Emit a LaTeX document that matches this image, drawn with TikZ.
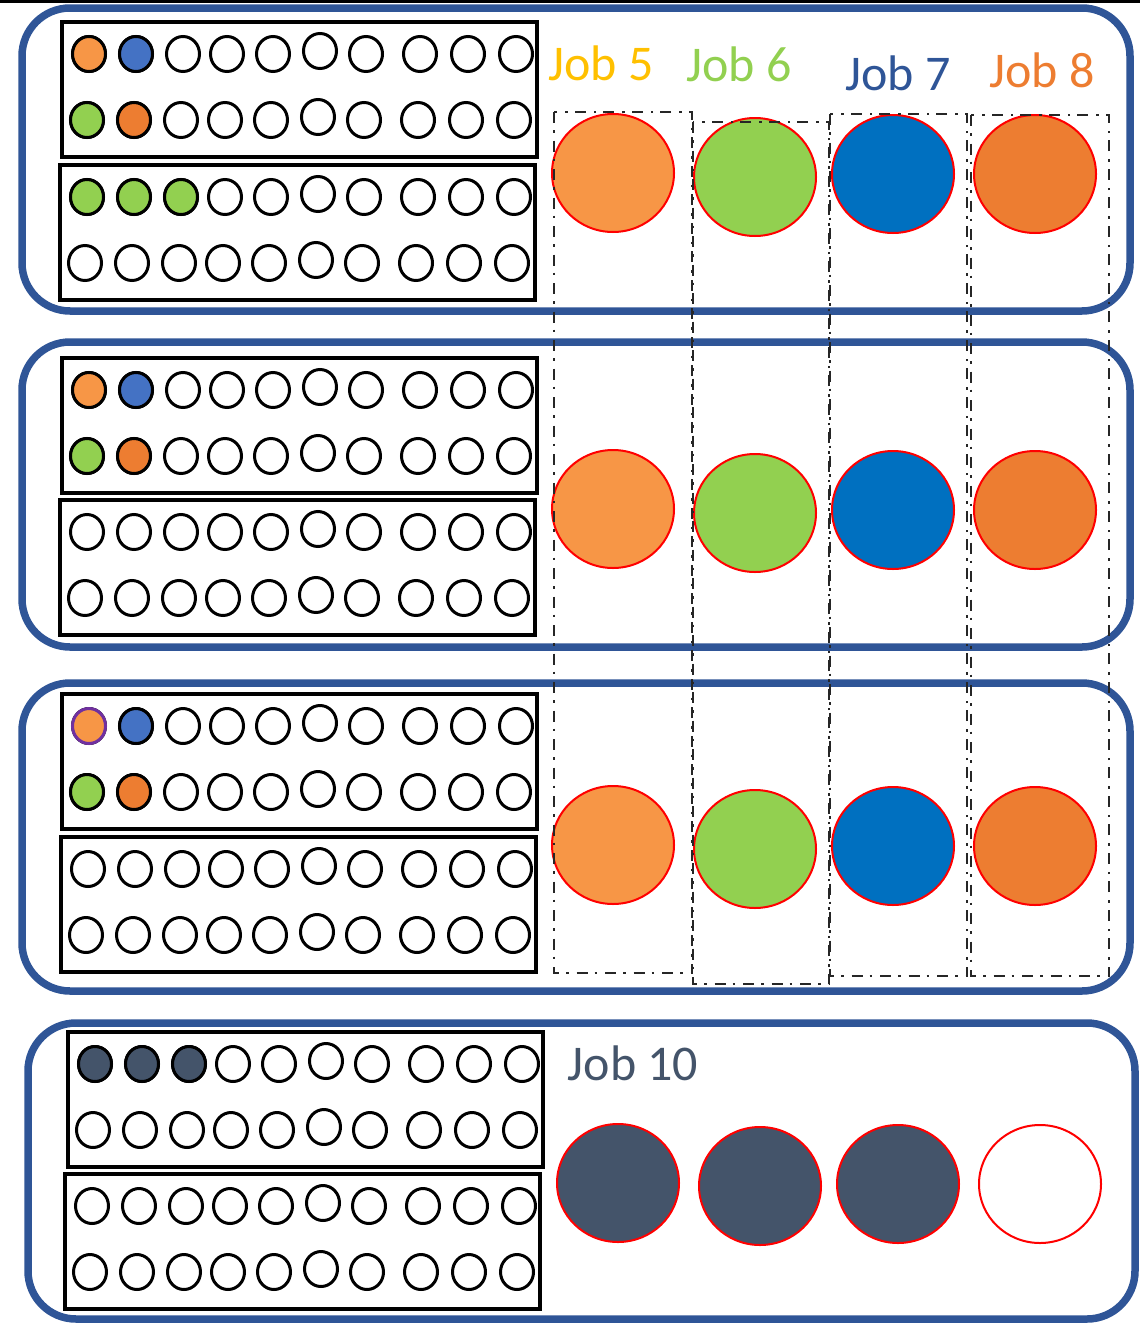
\documentclass[tikz,border=0pt]{standalone}
\usepackage{fontspec}
\setmainfont{Carlito}
\usepackage{xcolor}
\definecolor{panelblue}{HTML}{2F5597}
\definecolor{joborange}{HTML}{F79646}
\definecolor{jobgreen}{HTML}{92D050}
\definecolor{jobblue}{HTML}{0070C0}
\definecolor{jobdarkorange}{HTML}{ED7D31}
\definecolor{jobgold}{HTML}{FFC000}
\definecolor{slotblue}{HTML}{4472C4}
\definecolor{jobslate}{HTML}{44546A}
\definecolor{jobpurple}{HTML}{7030A0}
\tikzset{
  slot/.style={draw=black, fill=white, line width=3pt},
  panel/.style={draw=panelblue, line width=7.5pt, rounded corners=48pt},
  bigjob/.style={draw=red, line width=2pt},
  column/.style={draw=black!85, line width=2.6pt, dash pattern=on 11pt off 7pt on 2.5pt off 8pt},
  joblabel/.style={font=\fontsize{50}{60}\selectfont, anchor=base, inner sep=0pt}
}
\newcommand{\cpubox}[2]{%
  \draw[line width=4pt] (#1,#2) rectangle ++(475,135);
  \foreach \dx/\dy in {27/0,74/0,121/0,165/0,211/0,258/-3,304/0,358/0,406/0,454/0} {
    \draw[slot] (#1+\dx,#2+32+\dy) ellipse (16.5pt and 17.5pt);
    \draw[slot] (#1+\dx-2,#2+98+\dy) ellipse (16.5pt and 17.5pt);
  }%
}

\begin{document}
\begin{tikzpicture}[x=1pt, y=-1pt]
    \useasboundingbox (0,0) rectangle (1140,1325);
    \draw[line width=3pt] (0,1.5) -- (1140,1.5);
    % panels
    \draw[panel] (22,8) rectangle (1130,311);
    \draw[panel] (22,342) rectangle (1130,647);
    \draw[panel] (22,683) rectangle (1130,991);
    \draw[panel] (28,1023) rectangle (1135,1319);
    % node boxes
    \cpubox{62}{22}
    \cpubox{60}{165}
    \cpubox{62}{358}
    \cpubox{60}{500}
    \cpubox{62}{694}
    \cpubox{61}{837}
    \cpubox{68}{1032}
    \cpubox{65}{1174}
    % busy slots
    \draw[slot, fill=joborange] (89,54) ellipse (16.5pt and 17.5pt);
    \draw[slot, fill=slotblue] (136,54) ellipse (16.5pt and 17.5pt);
    \draw[slot, fill=jobgreen] (87,120) ellipse (16.5pt and 17.5pt);
    \draw[slot, fill=jobdarkorange] (134,120) ellipse (16.5pt and 17.5pt);
    \draw[slot, fill=jobgreen] (87,197) ellipse (16.5pt and 17.5pt);
    \draw[slot, fill=jobgreen] (134,197) ellipse (16.5pt and 17.5pt);
    \draw[slot, fill=jobgreen] (181,197) ellipse (16.5pt and 17.5pt);
    \draw[slot, fill=joborange] (89,390) ellipse (16.5pt and 17.5pt);
    \draw[slot, fill=slotblue] (136,390) ellipse (16.5pt and 17.5pt);
    \draw[slot, fill=jobgreen] (87,456) ellipse (16.5pt and 17.5pt);
    \draw[slot, fill=jobdarkorange] (134,456) ellipse (16.5pt and 17.5pt);
    \draw[slot, draw=jobpurple, fill=joborange] (89,726) ellipse (16.5pt and 17.5pt);
    \draw[slot, fill=slotblue] (136,726) ellipse (16.5pt and 17.5pt);
    \draw[slot, fill=jobgreen] (87,792) ellipse (16.5pt and 17.5pt);
    \draw[slot, fill=jobdarkorange] (134,792) ellipse (16.5pt and 17.5pt);
    \draw[slot, fill=jobslate] (95,1064) ellipse (16.5pt and 17.5pt);
    \draw[slot, fill=jobslate] (142,1064) ellipse (16.5pt and 17.5pt);
    \draw[slot, fill=jobslate] (189,1064) ellipse (16.5pt and 17.5pt);
    % jobs
    \foreach \y in {0,336,672} {
        \draw[bigjob, fill=joborange] (613,173+\y) ellipse (61pt and 59pt);
        \draw[bigjob, fill=jobgreen] (755,177+\y) ellipse (61pt and 59pt);
        \draw[bigjob, fill=jobblue] (893,174+\y) ellipse (61pt and 59pt);
        \draw[bigjob, fill=jobdarkorange] (1035,174+\y) ellipse (61pt and 59pt);
    }
    \draw[bigjob, fill=jobslate] (618,1183) ellipse (61pt and 59pt);
    \draw[bigjob, fill=jobslate] (760,1186) ellipse (61pt and 59pt);
    \draw[bigjob, fill=jobslate] (898,1184) ellipse (61pt and 59pt);
    \draw[bigjob, fill=white] (1040,1184) ellipse (61pt and 59pt);
    \draw[column] (554,112) rectangle (692,973);
    \draw[column] (693,122) rectangle (829,984);
    \draw[column] (830,114) rectangle (967,976);
    \draw[column] (971,115) rectangle (1109,976);
    \node[joblabel, text=jobgold] (job5) at (601,80) {Job 5};
    \node[joblabel, text=jobgreen] (job6) at (739,81) {Job 6};
    \node[joblabel, text=panelblue] (job7) at (898,90) {Job 7};
    \node[joblabel, text=jobdarkorange] (job8) at (1042,87) {Job 8};
    \node[joblabel, text=jobslate] (job10) at (633,1080) {Job 10};
\end{tikzpicture}
\end{document}
